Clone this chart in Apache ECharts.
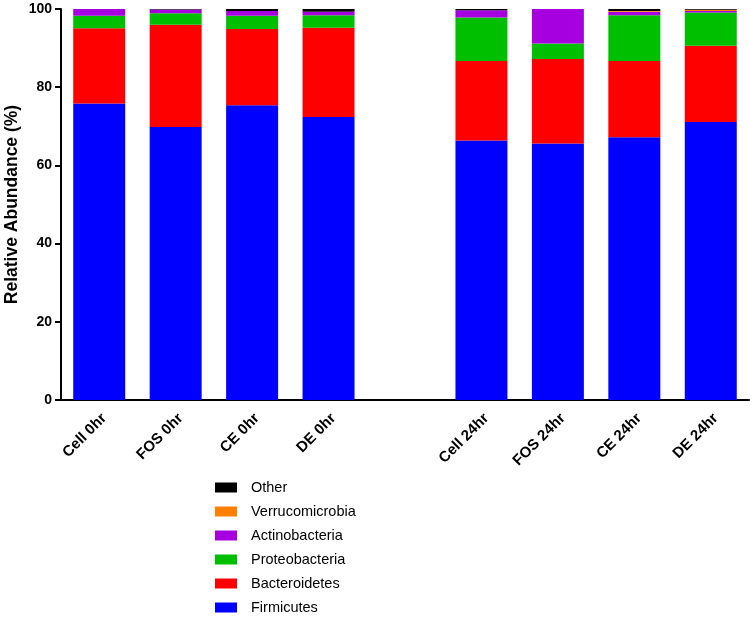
<!DOCTYPE html>
<html>
<head>
<meta charset="utf-8">
<script src="https://cdn.jsdelivr.net/npm/echarts@6/dist/echarts.min.js"></script>
<style>
html, body { margin: 0; padding: 0; background: #fff; }
#main { width: 750px; height: 621px; }
</style>
</head>
<body>
<div id="main"></div>
<script>
// 样本名称（中间空一格分开 0hr 和 24hr）
const categories = ['Cell 0hr', 'FOS 0hr', 'CE 0hr', 'DE 0hr', '', 'Cell 24hr', 'FOS 24hr', 'CE 24hr', 'DE 24hr']

const firmicutes      = [75.8, 69.8, 75.4, 72.4, null, 66.4, 65.6, 67.2, 71.1]
const bacteroidetes   = [19.3, 26.2, 19.5, 22.8, null, 20.3, 21.6, 19.5, 19.5]
const proteobacteria  = [3.2, 2.9, 3.4, 3.2, null, 11.1, 4.0, 11.7, 8.5]
const actinobacteria  = [1.7, 1.0, 1.2, 0.9, null, 1.9, 8.8, 0.9, 0.4]
const verrucomicrobia = [0, 0, 0, 0, null, 0, 0, 0.2, 0.3]
const other           = [0, 0.1, 0.5, 0.7, null, 0.3, 0, 0.5, 0.2]

const yTicks = [0, 20, 40, 60, 80, 100]

const font = 'Arial, "Liberation Sans", sans-serif'

function bar(name, data, color) {
    return {
        name: name,
        type: 'bar',
        stack: 'total',
        barWidth: '68%',
        data: data,
        itemStyle: { color: color },
        emphasis: { disabled: true }
    }
}

let myChart = echarts.init(document.getElementById('main'), null, { renderer: 'canvas' })
let option = {
    animation: false,
    grid: { left: 61, right: 1, top: 9, bottom: 221, containLabel: false, outerBoundsMode: 'none' },
    legend: {
        orient: 'vertical',
        left: 210,
        top: 475,
        height: 160,
        itemWidth: 22,
        itemHeight: 10,
        itemGap: 9,
        icon: 'rect',
        textStyle: { fontFamily: font, fontSize: 14.5, color: '#000', padding: [0, 0, 0, 9] },
        data: ['Other', 'Verrucomicrobia', 'Actinobacteria', 'Proteobacteria', 'Bacteroidetes', 'Firmicutes']
    },
    xAxis: {
        type: 'category',
        data: categories,
        axisLine: { lineStyle: { color: '#000', width: 2 } },
        axisTick: { alignWithLabel: true, length: 6, lineStyle: { color: '#000', width: 2 } },
        axisLabel: {
            rotate: 45,
            interval: 0,
            margin: 21,
            padding: [0, -7, 0, 0],
            color: '#000',
            fontFamily: font,
            fontWeight: 'bold',
            fontSize: 15
        }
    },
    yAxis: {
        type: 'value',
        min: yTicks[0],
        max: yTicks[yTicks.length - 1],
        interval: 20,
        name: 'Relative Abundance (%)',
        nameLocation: 'middle',
        nameGap: 40,
        nameMoveOverlap: false,
        nameTextStyle: { color: '#000', fontFamily: font, fontWeight: 'bold', fontSize: 17.5 },
        axisLine: { show: true, lineStyle: { color: '#000', width: 2 } },
        axisTick: { show: true, length: 6, lineStyle: { color: '#000', width: 2 } },
        axisLabel: { color: '#000', fontFamily: font, fontWeight: 'bold', fontSize: 14, margin: 9 },
        splitLine: { show: false }
    },
    series: [
        bar('Firmicutes', firmicutes, '#0000ff'),
        bar('Bacteroidetes', bacteroidetes, '#ff0000'),
        bar('Proteobacteria', proteobacteria, '#00bf00'),
        bar('Actinobacteria', actinobacteria, '#a700e0'),
        bar('Verrucomicrobia', verrucomicrobia, '#ff8000'),
        bar('Other', other, '#000000')
    ]
}
myChart.setOption(option)
</script>
</body>
</html>
